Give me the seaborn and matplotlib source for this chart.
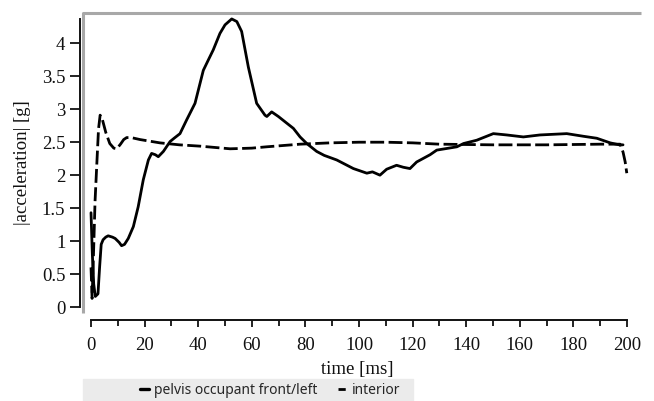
import numpy as np
import pandas as pd
import seaborn as sns
import matplotlib.pyplot as plt
from matplotlib.patches import Rectangle
from matplotlib.lines import Line2D

# pelvis occupant front/left (solid)
time_pelvis = [0, 0.5, 1.0, 1.6, 2.6, 3.2, 3.8, 4.5, 5.5, 6.4, 8.0, 9.0, 10.5, 11.4,
               12.5, 13.9, 15.8, 17.6, 19.5, 21.4, 22.6, 24.0, 25.1, 27.0, 29.5, 31.0,
               33.2, 35.7, 38.8, 41.9, 43.8, 45.6, 48.1, 50.0, 52.5, 54.4, 56.2, 58.7,
               61.8, 64.9, 65.6, 67.4, 69.9, 73.0, 75.5, 78.0, 80.5, 84.2, 87.0, 91.7,
               97.9, 102.9, 105.0, 107.8, 110.3, 114.0, 116.5, 119.0, 121.5, 126.5,
               129.0, 136.5, 139.0, 143.9, 150.1, 155.1, 161.3, 167.5, 172.5, 177.5,
               183.7, 188.7, 193.7, 197.1, 198.5]
accel_pelvis = [1.43, 0.80, 0.35, 0.16, 0.20, 0.60, 0.95, 1.02, 1.06, 1.08, 1.06, 1.04,
                0.98, 0.93, 0.95, 1.04, 1.22, 1.52, 1.93, 2.23, 2.33, 2.31, 2.28, 2.36,
                2.51, 2.56, 2.63, 2.84, 3.09, 3.59, 3.75, 3.90, 4.15, 4.28, 4.37, 4.33,
                4.18, 3.64, 3.09, 2.91, 2.89, 2.96, 2.89, 2.79, 2.71, 2.58, 2.48, 2.36,
                2.30, 2.23, 2.10, 2.03, 2.05, 2.00, 2.09, 2.15, 2.12, 2.10, 2.20, 2.31,
                2.38, 2.43, 2.48, 2.53, 2.63, 2.61, 2.58, 2.61, 2.62, 2.63, 2.59, 2.56,
                2.49, 2.46, 2.46]

# interior (dashed)
time_interior = [0, 0.4, 1.0, 1.5, 2.2, 2.8, 3.4, 4.2, 5.5, 7.0, 8.5, 9.6, 11.0, 12.2,
                 13.3, 15.0, 18.3, 25.7, 33.0, 40.7, 51.9, 60.0, 65.5, 78.0, 89.2, 100.0,
                 110.0, 120.0, 130.0, 150.0, 170.0, 190.0, 197.4, 198.5, 199.3, 199.9]
accel_interior = [0.60, 0.13, 0.90, 1.60, 2.20, 2.70, 2.91, 2.85, 2.65, 2.48, 2.41, 2.40,
                  2.47, 2.54, 2.57, 2.57, 2.54, 2.49, 2.46, 2.44, 2.40, 2.41, 2.43, 2.47,
                  2.49, 2.50, 2.50, 2.49, 2.47, 2.46, 2.46, 2.47, 2.47, 2.35, 2.20, 2.03]

x_ticks = np.arange(0, 201, 20)
y_ticks = [0, 0.5, 1, 1.5, 2, 2.5, 3, 3.5, 4]
y_tick_labels = ["0", "0.5", "1", "1.5", "2", "2.5", "3", "3.5", "4"]
series_names = ['pelvis occupant front/left', 'interior']

sns.set_style("white")
plt.rcParams['font.family'] = ['Liberation Serif', 'DejaVu Serif']
ink = "#111111"

df_p = pd.DataFrame({'time': time_pelvis, 'accel': accel_pelvis})
df_i = pd.DataFrame({'time': time_interior, 'accel': accel_interior})

fig = plt.figure(figsize=(6.54, 4.01), dpi=100)
ax = fig.add_axes([83 / 654, 1 - 313 / 401, 558 / 654, 300 / 401])

sns.lineplot(data=df_p, x='time', y='accel', ax=ax, color='black', lw=2.0, sort=False)
sns.lineplot(data=df_i, x='time', y='accel', ax=ax, color='black', lw=2.0,
             linestyle=(0, (5, 1.6)), sort=False)

# light grey frame (top + left) around plotting area
ax.plot([0, 0, 1], [0, 1, 1], transform=ax.transAxes, color='#a8a8a8', lw=2.2,
        clip_on=False, solid_capstyle='butt')

ax.set_xlim(-2.99, 205.2)
ax.set_ylim(-0.091, 4.46)

for s in ['top', 'right']:
    ax.spines[s].set_visible(False)
ax.spines['left'].set_position(('outward', 2.2))
ax.spines['left'].set_bounds(0, 4.37)
ax.spines['bottom'].set_position(('outward', 5.0))
ax.spines['bottom'].set_bounds(0, 200)
for s in ['left', 'bottom']:
    ax.spines[s].set_color(ink)
    ax.spines[s].set_linewidth(1.4)

ax.set_xticks(x_ticks)
ax.set_xticks(np.arange(10, 200, 20), minor=True)
ax.set_yticks(y_ticks)
ax.set_yticklabels(y_tick_labels)
ax.tick_params(axis='x', which='major', direction='out', length=5, width=1.3,
               color=ink, labelsize=13.5, labelcolor=ink, pad=7.5, bottom=True)
ax.tick_params(axis='x', which='minor', direction='out', length=4.5, width=1.3,
               color=ink, bottom=True)
ax.tick_params(axis='y', direction='out', length=7, width=1.3, color=ink,
               labelsize=13.5, labelcolor=ink, pad=3.5, left=True)

ax.set_xlabel('time [ms]', fontsize=13.5, color=ink)
ax.set_ylabel('|acceleration| [g]', fontsize=13.5, color=ink)
ax.xaxis.set_label_coords(0.491, -0.16)
ax.yaxis.set_label_coords(-0.094, 0.5)

# legend strip
fig.patches.append(Rectangle((83 / 654, 0), 330 / 654, 22 / 401,
                             transform=fig.transFigure, color='#ebebeb', zorder=-1))
handles = [Line2D([], [], color='black', lw=2.4),
           Line2D([], [], color='black', lw=2.0, linestyle=(0, (2.6, 1.4)))]
fig.legend(handles, series_names, loc='center', bbox_to_anchor=(270 / 654, 1 - 390 / 401),
           bbox_transform=fig.transFigure, ncol=2, frameon=False, handlelength=0.7,
           handletextpad=0.3, columnspacing=1.5, borderpad=0,
           prop={'family': ['Noto Sans', 'DejaVu Sans'], 'size': 10})

fig.savefig('out.png', dpi=100)
